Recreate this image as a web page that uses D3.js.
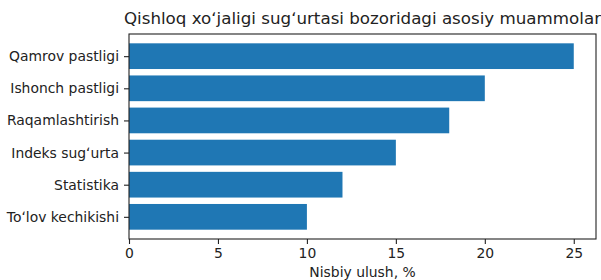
<!DOCTYPE html>
<html>
<head>
<meta charset="utf-8">
<script src="https://cdn.jsdelivr.net/npm/d3@7"></script>
<style>
  body { margin: 0; background: #fff; }
  svg { display: block; font-family: "DejaVu Sans", sans-serif; }
</style>
</head>
<body>
<div id="chart"></div>
<script>
// chart data
let categories = ["Qamrov pastligi", "Ishonch pastligi", "Raqamlashtirish", "Indeks sugʻurta", "Statistika", "Toʻlov kechikishi"];
let values = [25, 20, 18, 15, 12, 10];
let xTicks = [0, 5, 10, 15, 20, 25];
let titleText = "Qishloq xoʻjaligi sugʻurtasi bozoridagi asosiy muammolar";
let xLabelText = "Nisbiy ulush, %";

let svgWidth = 601;
let svgHeight = 280;

let margin = { top: 34, right: 5, bottom: 41, left: 129 };
let width = svgWidth - margin.left - margin.right;
let height = svgHeight - margin.top - margin.bottom;

let svg = d3.select("#chart")
    .append("svg")
    .attr("width", svgWidth)
    .attr("height", svgHeight);

let chartGroup = svg.append("g")
    .attr("transform", `translate(${margin.left}, ${margin.top})`);

// x scale: 0 .. 25 plus 5% margin on the right, like matplotlib
let xMax = d3.max(values);
let xScale = d3.scaleLinear()
    .domain([0, xMax * 1.05])
    .range([0, width]);

// y positions as in barh: index 0 on top, bar height 0.8, 5% margins
let n = categories.length;
let yLo = -0.4, yHi = n - 1 + 0.4;
let pad = (yHi - yLo) * 0.05;
let yScale = d3.scaleLinear()
    .domain([yLo - pad, yHi + pad])
    .range([0, height]);

// bars
chartGroup.selectAll("rect.bar")
    .data(values)
    .enter()
    .append("rect")
    .attr("class", "bar")
    .attr("x", xScale(0))
    .attr("y", (d, i) => yScale(i - 0.4))
    .attr("width", d => xScale(d) - xScale(0))
    .attr("height", (d, i) => yScale(i + 0.4) - yScale(i - 0.4))
    .attr("fill", "#1f77b4");

// x axis
let bottomAxis = d3.axisBottom(xScale)
    .tickValues(xTicks)
    .tickSize(5)
    .tickPadding(4)
    .tickFormat(d3.format("d"));

let xAxis = chartGroup.append("g")
    .attr("transform", `translate(0, ${height})`)
    .call(bottomAxis);

// y axis
let leftAxis = d3.axisLeft(yScale)
    .tickValues(d3.range(n))
    .tickSize(5)
    .tickPadding(5)
    .tickFormat(i => categories[i]);

let yAxis = chartGroup.append("g")
    .call(leftAxis);

[xAxis, yAxis].forEach(ax => {
    ax.attr("font-family", null).attr("font-size", null);
    ax.select(".domain").remove();
    ax.selectAll("line").attr("stroke", "#222").attr("stroke-width", 1.1);
    ax.selectAll("text")
        .attr("fill", "#222")
        .style("font-family", "'DejaVu Sans', sans-serif")
        .style("font-size", "13.9px");
});

// frame (all four spines)
chartGroup.append("rect")
    .attr("x", 0)
    .attr("y", 0)
    .attr("width", width)
    .attr("height", height)
    .attr("fill", "none")
    .attr("stroke", "#222")
    .attr("stroke-width", 1.1);

// title
svg.append("text")
    .attr("x", margin.left + width / 2)
    .attr("y", margin.top - 10)
    .attr("text-anchor", "middle")
    .attr("fill", "#222")
    .style("font-size", "16.7px")
    .text(titleText);

// x label
svg.append("text")
    .attr("x", margin.left + width / 2)
    .attr("y", svgHeight - 3)
    .attr("text-anchor", "middle")
    .attr("fill", "#222")
    .style("font-size", "13.9px")
    .text(xLabelText);
</script>
</body>
</html>
